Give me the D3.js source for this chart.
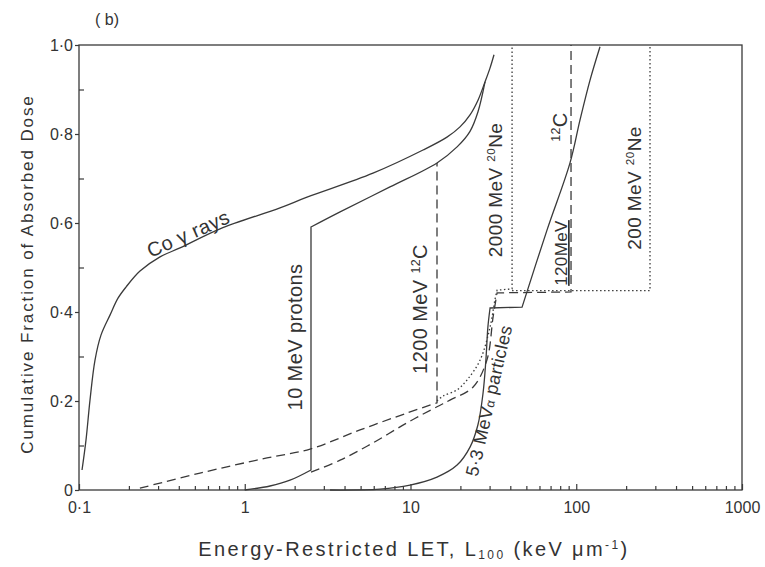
<!DOCTYPE html>
<html>
<head>
<meta charset="utf-8">
<script src="https://cdn.jsdelivr.net/npm/d3@7"></script>
<style>
body { margin: 0; background: #fff; }
text { font-family: "Liberation Sans", Arial, sans-serif; fill: #333; }
.curve { fill: none; stroke: #3a3a3a; stroke-width: 1.3; }
.axis path { display: none; }
.axis line { stroke: #3a3a3a; stroke-width: 1.2; }
.axis text { font-size: 16px; fill: #333; }
</style>
</head>
<body>
<svg width="765" height="567"></svg>
<script>
// values: LET in keV/um, cumulative fraction of dose

// Co gamma rays
var coLET  = [0.1043, 0.1102, 0.1165, 0.1249, 0.1357, 0.1538, 0.1719, 0.1921, 0.2333, 0.3082, 0.4068, 0.709, 1.632, 2.375, 5.94, 11.9, 16.6, 19.89, 22.86, 25.54, 28.15, 30.17, 31.9];
var coFrac = [0.045, 0.112, 0.202, 0.292, 0.348, 0.393, 0.431, 0.456, 0.492, 0.524, 0.544, 0.587, 0.634, 0.658, 0.712, 0.764, 0.793, 0.816, 0.843, 0.876, 0.917, 0.948, 0.978];

// 10 MeV protons
var protonLowLET   = [1.0, 1.42, 1.875, 2.51];
var protonLowFrac  = [0.0, 0.009, 0.022, 0.045];
var protonHighLET  = [2.51, 3.76, 7.52, 14.45, 19.1, 22.86, 25.54, 28.15];
var protonHighFrac = [0.591, 0.625, 0.681, 0.735, 0.771, 0.806, 0.850, 0.917];

// 1200 MeV 12C
var c1200LET  = [0.233, 0.537, 1.362, 2.48, 4.96, 9.53, 14.45];
var c1200Frac = [0.004, 0.038, 0.072, 0.092, 0.135, 0.173, 0.196];
var c1200TopLET  = [14.45];
var c1200TopFrac = [0.735];

// 120 MeV 12C
var c120LET  = [2.51, 3.76, 5.94, 9.53, 14.45, 17.3, 23.8, 28.9, 31.5, 33.3];
var c120Frac = [0.040, 0.067, 0.106, 0.151, 0.187, 0.202, 0.231, 0.292, 0.389, 0.443];
var c120StepLET  = [93.0, 93.0];
var c120StepFrac = [0.445, 1.0];

// 2000 MeV 20Ne
var ne2000LET  = [14.45, 15.7, 19.1, 21.9, 26.3, 30.2, 32.3, 33.3];
var ne2000Frac = [0.200, 0.211, 0.225, 0.247, 0.292, 0.366, 0.427, 0.449];
var ne2000StepLET  = [41.0, 41.0];
var ne2000StepFrac = [0.452, 1.0];

// 200 MeV 20Ne
var ne200LET  = [41.0, 278.6, 278.6];
var ne200Frac = [0.448, 0.448, 1.0];

// 5.3 MeV alpha particles
var alphaLowLET  = [3.27, 6.55, 9.93, 14.45, 19.1, 22.9, 25.5, 27.4, 28.5, 29.3, 30.2];
var alphaLowFrac = [0.0, 0.002, 0.011, 0.029, 0.056, 0.097, 0.146, 0.218, 0.292, 0.366, 0.409];
var alphaHighLET  = [47.1, 66.6, 91.7, 105.3, 121.1, 139.1];
var alphaHighFrac = [0.411, 0.584, 0.735, 0.831, 0.921, 0.996];

var xMajor = [0.1, 1, 10, 100, 1000];
var yMajor = [0, 0.2, 0.4, 0.6, 0.8, 1.0];
var yMinor = [0.1, 0.3, 0.5, 0.7, 0.9];

var svg = d3.select("svg");

var x = d3.scaleLog().domain([0.1, 1000]).range([79, 742]);
var y = d3.scaleLinear().domain([0, 1]).range([490, 45]);

var xMinor = [];
xMajor.slice(0, -1).forEach(function(d) {
  for (var k = 2; k < 10; k++) xMinor.push(d * k);
});

// frame
svg.append("rect")
  .attr("x", x(0.1)).attr("y", y(1))
  .attr("width", x(1000) - x(0.1)).attr("height", y(0) - y(1))
  .attr("fill", "none").attr("stroke", "#3a3a3a").attr("stroke-width", 1.3);

// x axis
svg.append("g").attr("class", "axis")
  .attr("transform", "translate(0," + y(0) + ")")
  .call(d3.axisBottom(x).tickValues(xMajor).tickSizeInner(-6).tickSizeOuter(0).tickPadding(12)
    .tickFormat(function(d) { return d < 1 ? "0·1" : String(d); }));
svg.append("g").attr("class", "axis")
  .attr("transform", "translate(0," + y(0) + ")")
  .call(d3.axisBottom(x).tickValues(xMinor).tickSizeInner(-4).tickSizeOuter(0).tickFormat(""));

// y axis
svg.append("g").attr("class", "axis")
  .attr("transform", "translate(" + x(0.1) + ",0)")
  .call(d3.axisLeft(y).tickValues(yMajor).tickSizeInner(4).tickSizeOuter(0).tickPadding(2)
    .tickFormat(function(d) { return d === 0 ? "0" : d3.format(".1f")(d).replace(".", "·"); }));
svg.append("g").attr("class", "axis")
  .attr("transform", "translate(" + x(0.1) + ",0)")
  .call(d3.axisLeft(y).tickValues(yMinor).tickSizeInner(-5).tickSizeOuter(0).tickFormat(""));

// curves
function pathOf(pieces) {
  return pieces.map(function(p, i) {
    var line = d3.line()
      .x(function(d) { return x(d[0]); })
      .y(function(d) { return y(d[1]); })
      .curve(p.smooth ? d3.curveCatmullRom.alpha(0.5) : d3.curveLinear);
    var s = line(d3.zip(p.lets, p.fracs)).replace(/Z$/, "");
    return i ? "L" + s.slice(1) : s;
  }).join("");
}

var series = [
  { dash: null, pieces: [{ lets: coLET, fracs: coFrac, smooth: true }] },
  { dash: null, pieces: [{ lets: protonLowLET, fracs: protonLowFrac, smooth: true },
                         { lets: protonHighLET, fracs: protonHighFrac, smooth: true }] },
  { dash: "9,5", pieces: [{ lets: c1200LET, fracs: c1200Frac, smooth: true },
                          { lets: c1200TopLET, fracs: c1200TopFrac, smooth: false }] },
  { dash: "9,5", pieces: [{ lets: c120LET, fracs: c120Frac, smooth: true },
                          { lets: c120StepLET, fracs: c120StepFrac, smooth: false }] },
  { dash: "1.5,2.5", pieces: [{ lets: ne2000LET, fracs: ne2000Frac, smooth: true },
                              { lets: ne2000StepLET, fracs: ne2000StepFrac, smooth: false }] },
  { dash: "1.5,2.5", pieces: [{ lets: ne200LET, fracs: ne200Frac, smooth: false }] },
  { dash: null, pieces: [{ lets: alphaLowLET, fracs: alphaLowFrac, smooth: true },
                         { lets: alphaHighLET, fracs: alphaHighFrac, smooth: true }] }
];

svg.selectAll("path.curve")
  .data(series)
  .enter().append("path")
    .attr("class", "curve")
    .attr("stroke-dasharray", function(d) { return d.dash; })
    .attr("d", function(d) { return pathOf(d.pieces); });

// labels
function label(px, py, angle, parts, size, extra) {
  var t = svg.append("text")
    .attr("transform", "translate(" + px + "," + py + ") rotate(" + angle + ")")
    .attr("text-anchor", "middle")
    .style("font-size", size + "px")
    .style("letter-spacing", "0.4px");
  if (extra) extra(t);
  parts.forEach(function(p) {
    var ts = t.append("tspan").text(p.t);
    if (p.sup) ts.attr("dy", -7).style("font-size", (size * 0.62) + "px");
    if (p.back) ts.attr("dy", 7);
    if (p.small) ts.style("font-size", (size * 0.7) + "px");
  });
  return t;
}

label(191, 240, -24, [{ t: "Co \u03b3 rays" }], 20);
label(302, 337, -90, [{ t: "10 MeV protons" }], 20);
label(427, 309, -90, [{ t: "1200 MeV  " }, { t: "12", sup: true }, { t: "C", back: true }], 20);
label(502, 190, -90, [{ t: "2000 MeV  " }, { t: "20", sup: true }, { t: "Ne", back: true }], 19);
label(567, 127, -90, [{ t: "12", sup: true }, { t: "C", back: true }], 20);
label(567, 253, -90, [{ t: "120MeV" }], 17, function(t) { t.style("text-decoration", "underline"); });
label(641, 188, -90, [{ t: "200  MeV  " }, { t: "20", sup: true }, { t: "Ne", back: true }], 19);
label(495, 402, -77, [{ t: "5\u00b73 MeV" }, { t: "\u03b1", small: true }, { t: " particles" }], 18);

// titles
svg.append("text").attr("x", 95).attr("y", 25).style("font-size", "16px").text("( b)");

svg.append("text")
  .attr("transform", "translate(33,274) rotate(-90)")
  .attr("text-anchor", "middle")
  .style("font-size", "17px")
  .style("letter-spacing", "1.9px")
  .text("Cumulative Fraction of Absorbed Dose");

var xt = svg.append("text")
  .attr("x", 414).attr("y", 556)
  .attr("text-anchor", "middle")
  .style("font-size", "20px")
  .style("letter-spacing", "2.4px");
xt.append("tspan").text("Energy-Restricted  LET,  L");
xt.append("tspan").attr("dy", 3).style("font-size", "12px").text("100");
xt.append("tspan").attr("dy", -3).text("  (keV  \u03bcm");
xt.append("tspan").attr("dy", -7).style("font-size", "12px").text("-1");
xt.append("tspan").attr("dy", 7).text(")");
</script>
</body>
</html>
